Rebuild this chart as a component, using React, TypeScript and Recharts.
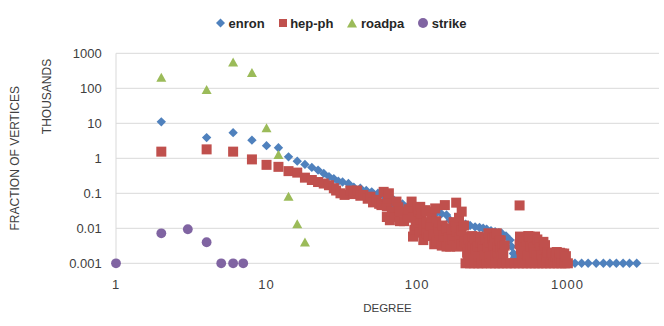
import React from 'react';
import { ScatterChart, Scatter, XAxis, YAxis, CartesianGrid, Legend, Label } from 'recharts';

const xTicks = [1, 10, 100, 1000];
const yTicks = [0.001, 0.01, 0.1, 1, 10, 100, 1000];
const xDomain: [number, number] = [1, 4050];
const yDomain: [number, number] = [0.001, 1000];

const seriesNames = ['enron', 'hep-ph', 'roadpa', 'strike'];
const seriesColors = ['#4F81BD', '#C0504D', '#9BBB59', '#8064A2'];

const enron: [number, number][] = [
  [2, 11], [4, 3.9], [6, 5.4], [8, 3.3], [10, 2.3], [12, 2.0], [14, 1.1], [16, 0.83], [18, 0.67],
  [20, 0.55], [22, 0.46], [24, 0.37], [26, 0.30], [28, 0.26], [30, 0.22], [32, 0.21], [35, 0.19],
  [38, 0.15], [42, 0.14], [46, 0.12], [50, 0.11], [55, 0.10], [60, 0.085], [65, 0.075], [68, 0.045],
  [70, 0.065], [72, 0.035], [75, 0.055], [80, 0.05], [88, 0.045], [95, 0.04], [105, 0.037],
  [115, 0.033], [125, 0.03], [135, 0.028], [145, 0.026], [157, 0.024], [166, 0.017], [180, 0.015],
  [195, 0.014], [210, 0.013], [225, 0.012], [243, 0.011], [260, 0.0105], [275, 0.01], [290, 0.0095],
  [310, 0.0085], [330, 0.008], [350, 0.0075], [365, 0.0072], [390, 0.006], [415, 0.0046],
  [425, 0.003], [437, 0.0019], [445, 0.0015], [460, 0.001], [500, 0.001], [540, 0.001],
  [580, 0.001], [620, 0.001], [660, 0.001], [700, 0.001], [750, 0.001], [800, 0.001], [860, 0.001],
  [920, 0.001], [980, 0.001], [1040, 0.001], [1120, 0.001], [1240, 0.001], [1370, 0.001],
  [1550, 0.001], [1730, 0.001], [1910, 0.001], [2110, 0.001], [2340, 0.001], [2580, 0.001],
  [2880, 0.001],
];

const hepPh: [number, number][] = [
  [2, 1.55], [4, 1.8], [6, 1.55], [8, 0.93], [10, 0.65], [12, 0.57], [14, 0.43], [16, 0.39],
  [18, 0.28], [20, 0.24], [22, 0.21], [24, 0.19], [26, 0.17], [28, 0.14], [29, 0.12], [31, 0.10],
  [33, 0.09], [36, 0.12], [38, 0.095], [40, 0.12], [42, 0.085], [44, 0.09], [47, 0.07], [49, 0.08],
  [51, 0.055], [54, 0.065], [56, 0.05], [58, 0.046], [60, 0.11], [63, 0.042], [63, 0.021],
  [64, 0.07], [65, 0.1], [66, 0.017], [68, 0.03], [71, 0.021], [73, 0.058], [75, 0.04], [77, 0.03],
  [77, 0.016], [82, 0.016], [86, 0.02], [88, 0.035], [92, 0.058], [94, 0.021], [94, 0.0058],
  [96, 0.009], [98, 0.012], [100, 0.04], [102, 0.03], [104, 0.0075], [105, 0.041], [106, 0.018],
  [107, 0.027], [110, 0.0046], [110, 0.013], [112, 0.0095], [113, 0.033], [116, 0.03], [116, 0.015],
  [116, 0.0072], [120, 0.006], [122, 0.012], [125, 0.02], [128, 0.0065], [130, 0.0035], [132, 0.037],
  [134, 0.016], [135, 0.0041], [138, 0.01], [140, 0.0075], [142, 0.0046], [146, 0.0032], [148, 0.012],
  [150, 0.006], [153, 0.046], [155, 0.0085], [157, 0.003], [158, 0.01], [162, 0.0055],
  [166, 0.003], [170, 0.009], [172, 0.0048], [175, 0.015], [176, 0.0032], [180, 0.011], [182, 0.054],
  [184, 0.008], [184, 0.003], [190, 0.02], [192, 0.0055], [196, 0.0034], [198, 0.03], [198, 0.0089],
  [203, 0.0058], [205, 0.012], [208, 0.0042], [210, 0.001], [212, 0.0031], [215, 0.002], [218, 0.0017],
  [220, 0.0048], [225, 0.003], [225, 0.001], [232, 0.006], [232, 0.0029], [236, 0.0017], [240, 0.001],
  [240, 0.0052], [245, 0.0025], [252, 0.003], [255, 0.0058], [255, 0.001], [258, 0.0016], [262, 0.0055],
  [265, 0.004], [270, 0.001], [274, 0.0031], [280, 0.0025], [282, 0.0017], [285, 0.0048], [290, 0.001],
  [296, 0.0029], [298, 0.0072], [305, 0.004], [305, 0.0016], [310, 0.001], [315, 0.0055], [318, 0.005],
  [321, 0.0033], [328, 0.0055], [330, 0.001], [332, 0.0017], [338, 0.0072], [340, 0.002], [345, 0.003],
  [350, 0.001], [352, 0.0046], [356, 0.0027], [360, 0.0045], [362, 0.0016], [370, 0.001], [372, 0.0031],
  [374, 0.0019], [382, 0.0032], [395, 0.001], [420, 0.001], [445, 0.001], [475, 0.001], [480, 0.045],
  [480, 0.0035], [483, 0.0058], [490, 0.0025], [495, 0.0017], [505, 0.001], [510, 0.0045],
  [520, 0.0028], [530, 0.0042], [535, 0.001], [540, 0.0017], [548, 0.006], [560, 0.0058], [563, 0.003],
  [570, 0.001], [585, 0.0042], [590, 0.0028], [600, 0.002], [605, 0.001], [608, 0.0058], [625, 0.0017],
  [630, 0.0048], [640, 0.001], [650, 0.004], [660, 0.0028], [670, 0.0017], [680, 0.001], [691, 0.0041],
  [700, 0.0024], [708, 0.0033], [720, 0.001], [730, 0.0015], [740, 0.002], [765, 0.001], [780, 0.0018],
  [790, 0.002], [810, 0.001], [830, 0.0016], [848, 0.0021], [860, 0.001], [880, 0.0015], [890, 0.002],
  [910, 0.001], [916, 0.0019], [950, 0.0019], [960, 0.001], [975, 0.0016], [1005, 0.001],
];

const roadpa: [number, number][] = [
  [2, 200], [4, 90], [6, 550], [8, 275], [10, 7.2], [12, 1.24], [14, 0.08], [16, 0.013], [18, 0.0039],
];

const strike: [number, number][] = [
  [1, 0.001], [2, 0.0072], [3, 0.0094], [4, 0.004], [5, 0.001], [6, 0.001], [7, 0.001],
];

const toPoints = (arr: [number, number][]) => arr.map(([degree, fraction]) => ({ degree, fraction }));

const FONT = '"Liberation Sans", Arial, sans-serif';
const TEXT = '#404040';

const makeShape = (kind: string, color: string) => (props: any) => {
  const { cx, cy } = props;
  if (cx == null || cy == null) return <g />;
  if (kind === 'diamond') {
    const h = 4.7;
    return <path d={`M${cx},${cy - h}L${cx + h},${cy}L${cx},${cy + h}L${cx - h},${cy}Z`} fill={color} />;
  }
  if (kind === 'square') {
    return <rect x={cx - 5} y={cy - 5} width={10} height={10} fill={color} />;
  }
  if (kind === 'triangle') {
    return <path d={`M${cx},${cy - 5}L${cx + 5},${cy + 4}L${cx - 5},${cy + 4}Z`} fill={color} />;
  }
  return <circle cx={cx} cy={cy} r={4.9} fill={color} />;
};

const kinds = ['diamond', 'square', 'triangle', 'circle'];

const LegendIcon = ({ kind, color }: { kind: string; color: string }) => {
  if (kind === 'diamond')
    return (
      <svg width={9} height={10} style={{ display: 'block' }}>
        <path d="M4.5,0.5L9,5L4.5,9.5L0,5Z" fill={color} />
      </svg>
    );
  if (kind === 'square')
    return (
      <svg width={8} height={10} style={{ display: 'block' }}>
        <rect x={0} y={1} width={8} height={8} fill={color} />
      </svg>
    );
  if (kind === 'triangle')
    return (
      <svg width={10} height={10} style={{ display: 'block' }}>
        <path d="M5,0.5L10,9.5L0,9.5Z" fill={color} />
      </svg>
    );
  return (
    <svg width={10} height={10} style={{ display: 'block' }}>
      <circle cx={5} cy={5} r={5} fill={color} />
    </svg>
  );
};

const renderLegend = () => (
  <div
    style={{
      display: 'flex',
      alignItems: 'center',
      height: 22,
      paddingLeft: 216,
      fontFamily: FONT,
      fontSize: 13,
      fontWeight: 'bold',
      color: '#262626',
    }}
  >
    {seriesNames.map((name, i) => (
      <div key={name} style={{ display: 'flex', alignItems: 'center', marginRight: 14 }}>
        <div style={{ marginRight: 3.5 }}>
          <LegendIcon kind={kinds[i]} color={seriesColors[i]} />
        </div>
        <span style={{ whiteSpace: 'nowrap' }}>{name}</span>
      </div>
    ))}
  </div>
);

const seriesData = [enron, hepPh, roadpa, strike];

export default function App() {
  return (
    <div style={{ position: 'absolute', left: 0, top: 0, width: 664, height: 326, background: '#fff' }}>
      <ScatterChart width={664} height={326} margin={{ top: 53.3, right: 5, bottom: 12.7, left: 0 }}>
        <CartesianGrid vertical={false} stroke="#D9D9D9" strokeWidth={1} />
        <XAxis
          type="number"
          dataKey="degree"
          scale="log"
          domain={xDomain}
          ticks={xTicks}
          height={50}
          axisLine={false}
          tickLine={false}
          tickSize={6}
          tickMargin={10}
          tick={{ fill: TEXT, fontSize: 13, fontFamily: FONT, letterSpacing: 1 }}
        >
          <Label
            content={(p: any) => {
              const vb = p.viewBox || { x: 116, y: 263.3, width: 543, height: 50 };
              return (
                <text
                  x={vb.x + vb.width / 2}
                  y={vb.y + 48.4}
                  textAnchor="middle"
                  fill={TEXT}
                  fontSize={11.5}
                  fontFamily={FONT}
                >
                  DEGREE
                </text>
              );
            }}
          />
        </XAxis>
        <YAxis
          type="number"
          dataKey="fraction"
          scale="log"
          domain={yDomain}
          ticks={yTicks}
          width={116}
          axisLine={{ stroke: '#D9D9D9' }}
          tickLine={false}
          tickSize={6}
          tickMargin={8.3}
          tick={{ fill: TEXT, fontSize: 13, fontFamily: FONT }}
        >
          <Label
            content={(p: any) => {
              const vb = p.viewBox || { x: 0, y: 53.3, width: 116, height: 210 };
              const x = vb.x + 15;
              const y = vb.y + vb.height / 2;
              return (
                <text
                  x={x}
                  y={y}
                  transform={`rotate(-90 ${x} ${y})`}
                  textAnchor="middle"
                  dominantBaseline="central"
                  fill={TEXT}
                  fontSize={12}
                  fontFamily={FONT}
                >
                  FRACTION OF VERTICES
                </text>
              );
            }}
          />
          <Label
            content={(p: any) => {
              const vb = p.viewBox || { x: 0, y: 53.3, width: 116, height: 210 };
              const x = vb.x + 46.7;
              const y = vb.y + 43.2;
              return (
                <text
                  x={x}
                  y={y}
                  transform={`rotate(-90 ${x} ${y})`}
                  textAnchor="middle"
                  dominantBaseline="central"
                  fill={TEXT}
                  fontSize={12}
                  fontFamily={FONT}
                >
                  THOUSANDS
                </text>
              );
            }}
          />
        </YAxis>
        <Legend
          verticalAlign="middle"
          align="center"
          content={renderLegend}
          wrapperStyle={{ top: 12, left: 0, width: 664, height: 22 }}
        />
        {seriesData.map((arr, i) => (
          <Scatter
            key={seriesNames[i]}
            name={seriesNames[i]}
            data={toPoints(arr)}
            fill={seriesColors[i]}
            shape={makeShape(kinds[i], seriesColors[i])}
            isAnimationActive={false}
          />
        ))}
      </ScatterChart>
    </div>
  );
}
